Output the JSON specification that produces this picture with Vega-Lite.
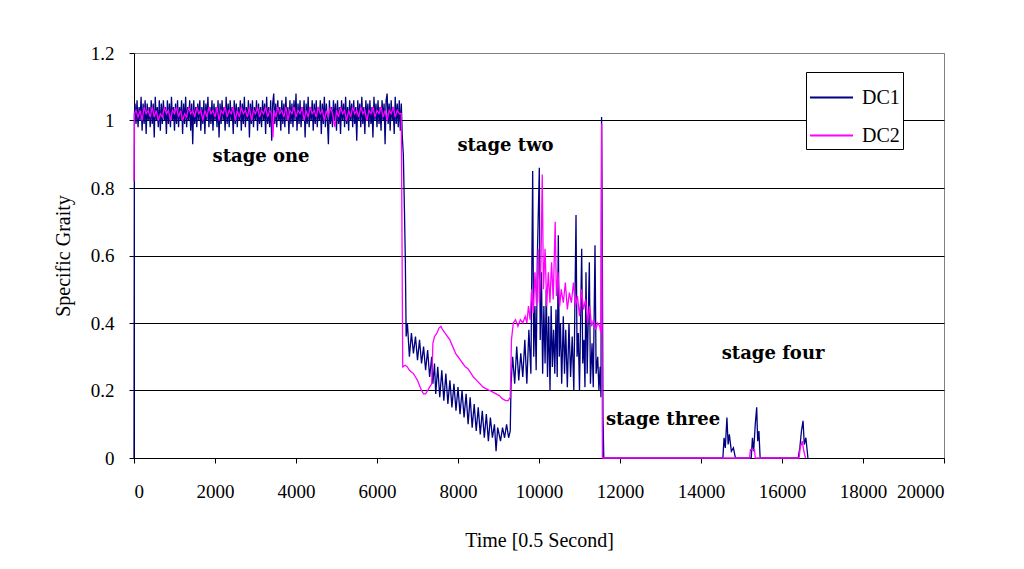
{
  "$schema": "https://vega.github.io/schema/vega-lite/v6.json",
  "autosize": "none",
  "width": 810,
  "height": 405,
  "padding": {"left": 134, "top": 53, "right": 80, "bottom": 111},
  "background": "white",
  "config": {
    "view": {"stroke": "#808080", "strokeWidth": 1},
    "font": "Liberation Serif"
  },
  "layer": [
    {
      "data": {"values": [
        {"series":"DC1","t":0,"v":0},{"series":"DC1","t":10,"v":1.02},{"series":"DC1","t":25,"v":1.05},{"series":"DC1","t":50,"v":0.99},{"series":"DC1","t":75,"v":1.06},{"series":"DC1","t":100,"v":0.98},{"series":"DC1","t":125,"v":1.04},{"series":"DC1","t":150,"v":1.0},{"series":"DC1","t":175,"v":1.07},{"series":"DC1","t":200,"v":0.97},{"series":"DC1","t":225,"v":1.05},{"series":"DC1","t":250,"v":0.99},{"series":"DC1","t":275,"v":1.06},{"series":"DC1","t":300,"v":0.96},{"series":"DC1","t":325,"v":1.05},{"series":"DC1","t":350,"v":1.0},{"series":"DC1","t":375,"v":1.04},{"series":"DC1","t":400,"v":0.98},{"series":"DC1","t":425,"v":1.06},{"series":"DC1","t":450,"v":0.99},{"series":"DC1","t":475,"v":1.05},{"series":"DC1","t":500,"v":0.95},{"series":"DC1","t":525,"v":1.07},{"series":"DC1","t":550,"v":1.0},{"series":"DC1","t":575,"v":1.04},{"series":"DC1","t":600,"v":0.98},{"series":"DC1","t":625,"v":1.06},{"series":"DC1","t":650,"v":0.97},{"series":"DC1","t":675,"v":1.05},{"series":"DC1","t":700,"v":0.99},{"series":"DC1","t":725,"v":1.06},{"series":"DC1","t":750,"v":1.0},{"series":"DC1","t":775,"v":1.04},{"series":"DC1","t":800,"v":0.96},{"series":"DC1","t":825,"v":1.06},{"series":"DC1","t":850,"v":0.99},{"series":"DC1","t":875,"v":1.05},{"series":"DC1","t":900,"v":0.98},{"series":"DC1","t":925,"v":1.07},{"series":"DC1","t":950,"v":1.0},{"series":"DC1","t":975,"v":1.04},{"series":"DC1","t":1000,"v":0.97},{"series":"DC1","t":1025,"v":1.05},{"series":"DC1","t":1050,"v":0.99},{"series":"DC1","t":1075,"v":1.06},{"series":"DC1","t":1100,"v":0.98},{"series":"DC1","t":1125,"v":1.04},{"series":"DC1","t":1150,"v":1.0},{"series":"DC1","t":1175,"v":1.06},{"series":"DC1","t":1200,"v":0.96},{"series":"DC1","t":1225,"v":1.05},{"series":"DC1","t":1250,"v":0.99},{"series":"DC1","t":1275,"v":1.07},{"series":"DC1","t":1300,"v":0.98},{"series":"DC1","t":1325,"v":1.04},{"series":"DC1","t":1350,"v":1.0},{"series":"DC1","t":1375,"v":1.06},{"series":"DC1","t":1400,"v":0.97},{"series":"DC1","t":1425,"v":1.05},{"series":"DC1","t":1450,"v":0.93},{"series":"DC1","t":1475,"v":1.06},{"series":"DC1","t":1500,"v":0.99},{"series":"DC1","t":1525,"v":1.04},{"series":"DC1","t":1550,"v":0.98},{"series":"DC1","t":1575,"v":1.05},{"series":"DC1","t":1600,"v":1.0},{"series":"DC1","t":1625,"v":1.06},{"series":"DC1","t":1650,"v":0.97},{"series":"DC1","t":1675,"v":1.04},{"series":"DC1","t":1700,"v":0.99},{"series":"DC1","t":1725,"v":1.06},{"series":"DC1","t":1750,"v":0.96},{"series":"DC1","t":1775,"v":1.05},{"series":"DC1","t":1800,"v":1.0},{"series":"DC1","t":1825,"v":1.07},{"series":"DC1","t":1850,"v":0.98},{"series":"DC1","t":1875,"v":1.04},{"series":"DC1","t":1900,"v":0.99},{"series":"DC1","t":1925,"v":1.06},{"series":"DC1","t":1950,"v":0.97},{"series":"DC1","t":1975,"v":1.05},{"series":"DC1","t":2000,"v":1.0},{"series":"DC1","t":2025,"v":1.04},{"series":"DC1","t":2050,"v":0.98},{"series":"DC1","t":2075,"v":1.06},{"series":"DC1","t":2100,"v":0.95},{"series":"DC1","t":2125,"v":1.05},{"series":"DC1","t":2150,"v":0.99},{"series":"DC1","t":2175,"v":1.06},{"series":"DC1","t":2200,"v":1.0},{"series":"DC1","t":2225,"v":1.04},{"series":"DC1","t":2250,"v":0.97},{"series":"DC1","t":2275,"v":1.07},{"series":"DC1","t":2300,"v":0.99},{"series":"DC1","t":2325,"v":1.05},{"series":"DC1","t":2350,"v":0.98},{"series":"DC1","t":2375,"v":1.06},{"series":"DC1","t":2400,"v":1.0},{"series":"DC1","t":2425,"v":1.04},{"series":"DC1","t":2450,"v":0.96},{"series":"DC1","t":2475,"v":1.06},{"series":"DC1","t":2500,"v":0.99},{"series":"DC1","t":2525,"v":1.05},{"series":"DC1","t":2550,"v":0.98},{"series":"DC1","t":2575,"v":1.04},{"series":"DC1","t":2600,"v":1.0},{"series":"DC1","t":2625,"v":1.06},{"series":"DC1","t":2650,"v":0.97},{"series":"DC1","t":2675,"v":1.05},{"series":"DC1","t":2700,"v":0.99},{"series":"DC1","t":2725,"v":1.07},{"series":"DC1","t":2750,"v":0.98},{"series":"DC1","t":2775,"v":1.04},{"series":"DC1","t":2800,"v":1.0},{"series":"DC1","t":2825,"v":1.06},{"series":"DC1","t":2850,"v":0.95},{"series":"DC1","t":2875,"v":1.05},{"series":"DC1","t":2900,"v":0.99},{"series":"DC1","t":2925,"v":1.06},{"series":"DC1","t":2950,"v":0.98},{"series":"DC1","t":2975,"v":1.04},{"series":"DC1","t":3000,"v":1.0},{"series":"DC1","t":3025,"v":1.06},{"series":"DC1","t":3050,"v":0.97},{"series":"DC1","t":3075,"v":1.05},{"series":"DC1","t":3100,"v":0.99},{"series":"DC1","t":3125,"v":1.04},{"series":"DC1","t":3150,"v":0.98},{"series":"DC1","t":3175,"v":1.06},{"series":"DC1","t":3200,"v":1.0},{"series":"DC1","t":3225,"v":1.05},{"series":"DC1","t":3250,"v":0.96},{"series":"DC1","t":3275,"v":1.07},{"series":"DC1","t":3300,"v":0.99},{"series":"DC1","t":3325,"v":1.04},{"series":"DC1","t":3350,"v":0.98},{"series":"DC1","t":3375,"v":1.06},{"series":"DC1","t":3400,"v":0.94},{"series":"DC1","t":3425,"v":1.05},{"series":"DC1","t":3450,"v":1.08},{"series":"DC1","t":3475,"v":0.99},{"series":"DC1","t":3500,"v":1.05},{"series":"DC1","t":3525,"v":0.98},{"series":"DC1","t":3550,"v":1.06},{"series":"DC1","t":3575,"v":1.0},{"series":"DC1","t":3600,"v":1.04},{"series":"DC1","t":3625,"v":0.97},{"series":"DC1","t":3650,"v":1.06},{"series":"DC1","t":3675,"v":0.99},{"series":"DC1","t":3700,"v":1.05},{"series":"DC1","t":3725,"v":0.98},{"series":"DC1","t":3750,"v":1.07},{"series":"DC1","t":3775,"v":1.0},{"series":"DC1","t":3800,"v":1.04},{"series":"DC1","t":3825,"v":0.96},{"series":"DC1","t":3850,"v":1.06},{"series":"DC1","t":3875,"v":0.99},{"series":"DC1","t":3900,"v":1.05},{"series":"DC1","t":3925,"v":0.98},{"series":"DC1","t":3950,"v":1.06},{"series":"DC1","t":3975,"v":1.0},{"series":"DC1","t":4000,"v":1.08},{"series":"DC1","t":4025,"v":0.97},{"series":"DC1","t":4050,"v":1.05},{"series":"DC1","t":4075,"v":0.99},{"series":"DC1","t":4100,"v":1.06},{"series":"DC1","t":4125,"v":0.98},{"series":"DC1","t":4150,"v":1.04},{"series":"DC1","t":4175,"v":1.0},{"series":"DC1","t":4200,"v":1.06},{"series":"DC1","t":4225,"v":0.95},{"series":"DC1","t":4250,"v":1.05},{"series":"DC1","t":4275,"v":0.99},{"series":"DC1","t":4300,"v":1.07},{"series":"DC1","t":4325,"v":0.98},{"series":"DC1","t":4350,"v":1.04},{"series":"DC1","t":4375,"v":1.0},{"series":"DC1","t":4400,"v":1.06},{"series":"DC1","t":4425,"v":0.97},{"series":"DC1","t":4450,"v":1.05},{"series":"DC1","t":4475,"v":0.99},{"series":"DC1","t":4500,"v":1.06},{"series":"DC1","t":4525,"v":0.98},{"series":"DC1","t":4550,"v":1.04},{"series":"DC1","t":4575,"v":1.0},{"series":"DC1","t":4600,"v":1.06},{"series":"DC1","t":4625,"v":0.96},{"series":"DC1","t":4650,"v":1.05},{"series":"DC1","t":4675,"v":0.99},{"series":"DC1","t":4700,"v":1.07},{"series":"DC1","t":4725,"v":0.98},{"series":"DC1","t":4750,"v":1.05},{"series":"DC1","t":4775,"v":1.0},{"series":"DC1","t":4800,"v":0.93},{"series":"DC1","t":4825,"v":1.06},{"series":"DC1","t":4850,"v":0.99},{"series":"DC1","t":4875,"v":1.04},{"series":"DC1","t":4900,"v":0.98},{"series":"DC1","t":4925,"v":1.06},{"series":"DC1","t":4950,"v":1.0},{"series":"DC1","t":4975,"v":1.05},{"series":"DC1","t":5000,"v":0.97},{"series":"DC1","t":5025,"v":1.06},{"series":"DC1","t":5050,"v":0.99},{"series":"DC1","t":5075,"v":1.04},{"series":"DC1","t":5100,"v":0.96},{"series":"DC1","t":5125,"v":1.06},{"series":"DC1","t":5150,"v":1.0},{"series":"DC1","t":5175,"v":1.05},{"series":"DC1","t":5200,"v":0.98},{"series":"DC1","t":5225,"v":1.07},{"series":"DC1","t":5250,"v":0.99},{"series":"DC1","t":5275,"v":1.04},{"series":"DC1","t":5300,"v":0.97},{"series":"DC1","t":5325,"v":1.06},{"series":"DC1","t":5350,"v":1.0},{"series":"DC1","t":5375,"v":1.05},{"series":"DC1","t":5400,"v":0.98},{"series":"DC1","t":5425,"v":1.06},{"series":"DC1","t":5450,"v":0.99},{"series":"DC1","t":5475,"v":1.04},{"series":"DC1","t":5500,"v":0.94},{"series":"DC1","t":5525,"v":1.06},{"series":"DC1","t":5550,"v":1.0},{"series":"DC1","t":5575,"v":1.05},{"series":"DC1","t":5600,"v":0.98},{"series":"DC1","t":5625,"v":1.07},{"series":"DC1","t":5650,"v":0.99},{"series":"DC1","t":5675,"v":1.04},{"series":"DC1","t":5700,"v":0.96},{"series":"DC1","t":5725,"v":1.06},{"series":"DC1","t":5750,"v":1.0},{"series":"DC1","t":5775,"v":1.05},{"series":"DC1","t":5800,"v":0.98},{"series":"DC1","t":5825,"v":1.06},{"series":"DC1","t":5850,"v":0.99},{"series":"DC1","t":5875,"v":1.04},{"series":"DC1","t":5900,"v":0.95},{"series":"DC1","t":5925,"v":1.07},{"series":"DC1","t":5950,"v":1.0},{"series":"DC1","t":5975,"v":1.05},{"series":"DC1","t":6000,"v":0.98},{"series":"DC1","t":6025,"v":1.06},{"series":"DC1","t":6050,"v":0.99},{"series":"DC1","t":6075,"v":1.04},{"series":"DC1","t":6100,"v":0.97},{"series":"DC1","t":6125,"v":1.06},{"series":"DC1","t":6150,"v":1.0},{"series":"DC1","t":6175,"v":1.05},{"series":"DC1","t":6200,"v":0.93},{"series":"DC1","t":6225,"v":1.06},{"series":"DC1","t":6250,"v":1.08},{"series":"DC1","t":6275,"v":0.99},{"series":"DC1","t":6300,"v":1.05},{"series":"DC1","t":6325,"v":0.97},{"series":"DC1","t":6350,"v":1.06},{"series":"DC1","t":6375,"v":1.0},{"series":"DC1","t":6400,"v":1.04},{"series":"DC1","t":6425,"v":0.96},{"series":"DC1","t":6450,"v":1.07},{"series":"DC1","t":6475,"v":0.99},{"series":"DC1","t":6500,"v":1.05},{"series":"DC1","t":6525,"v":0.98},{"series":"DC1","t":6550,"v":1.06},{"series":"DC1","t":6575,"v":0.97},{"series":"DC1","t":6600,"v":1.05},{"series":"DC1","t":6625,"v":0.95},
        {"series":"DC1","t":6650,"v":0.9},{"series":"DC1","t":6680,"v":0.72},{"series":"DC1","t":6700,"v":0.58},{"series":"DC1","t":6720,"v":0.36},{"series":"DC1","t":6750,"v":0.4},{"series":"DC1","t":6800,"v":0.3},{"series":"DC1","t":6850,"v":0.37},{"series":"DC1","t":6900,"v":0.31},{"series":"DC1","t":6950,"v":0.36},{"series":"DC1","t":7000,"v":0.29},{"series":"DC1","t":7050,"v":0.35},{"series":"DC1","t":7100,"v":0.28},{"series":"DC1","t":7150,"v":0.33},{"series":"DC1","t":7200,"v":0.26},{"series":"DC1","t":7250,"v":0.32},{"series":"DC1","t":7300,"v":0.24},{"series":"DC1","t":7350,"v":0.3},{"series":"DC1","t":7380,"v":0.22},{"series":"DC1","t":7420,"v":0.28},{"series":"DC1","t":7450,"v":0.19},{"series":"DC1","t":7500,"v":0.27},{"series":"DC1","t":7550,"v":0.18},{"series":"DC1","t":7600,"v":0.26},{"series":"DC1","t":7650,"v":0.17},{"series":"DC1","t":7700,"v":0.25},{"series":"DC1","t":7750,"v":0.16},{"series":"DC1","t":7800,"v":0.23},{"series":"DC1","t":7850,"v":0.15},{"series":"DC1","t":7900,"v":0.22},{"series":"DC1","t":7950,"v":0.14},{"series":"DC1","t":8000,"v":0.21},{"series":"DC1","t":8050,"v":0.13},{"series":"DC1","t":8100,"v":0.2},{"series":"DC1","t":8150,"v":0.12},{"series":"DC1","t":8200,"v":0.19},{"series":"DC1","t":8250,"v":0.1},{"series":"DC1","t":8300,"v":0.18},{"series":"DC1","t":8350,"v":0.09},{"series":"DC1","t":8400,"v":0.16},{"series":"DC1","t":8450,"v":0.08},{"series":"DC1","t":8500,"v":0.15},{"series":"DC1","t":8550,"v":0.07},{"series":"DC1","t":8600,"v":0.14},{"series":"DC1","t":8650,"v":0.06},{"series":"DC1","t":8700,"v":0.13},{"series":"DC1","t":8750,"v":0.05},{"series":"DC1","t":8800,"v":0.12},{"series":"DC1","t":8850,"v":0.06},{"series":"DC1","t":8900,"v":0.1},{"series":"DC1","t":8940,"v":0.02},{"series":"DC1","t":8980,"v":0.09},{"series":"DC1","t":9050,"v":0.05},{"series":"DC1","t":9100,"v":0.09},{"series":"DC1","t":9150,"v":0.06},{"series":"DC1","t":9200,"v":0.1},{"series":"DC1","t":9250,"v":0.06},{"series":"DC1","t":9290,"v":0.08},{"series":"DC1","t":9310,"v":0.22},{"series":"DC1","t":9350,"v":0.3},{"series":"DC1","t":9400,"v":0.22},{"series":"DC1","t":9450,"v":0.33},{"series":"DC1","t":9500,"v":0.23},{"series":"DC1","t":9550,"v":0.31},{"series":"DC1","t":9600,"v":0.24},{"series":"DC1","t":9650,"v":0.35},{"series":"DC1","t":9700,"v":0.22},{"series":"DC1","t":9750,"v":0.38},{"series":"DC1","t":9800,"v":0.25},{"series":"DC1","t":9844,"v":0.85},{"series":"DC1","t":9870,"v":0.3},{"series":"DC1","t":9900,"v":0.45},{"series":"DC1","t":9930,"v":0.26},{"series":"DC1","t":9960,"v":0.6},{"series":"DC1","t":10008,"v":0.86},{"series":"DC1","t":10030,"v":0.35},{"series":"DC1","t":10060,"v":0.55},{"series":"DC1","t":10090,"v":0.25},{"series":"DC1","t":10120,"v":0.45},{"series":"DC1","t":10150,"v":0.28},{"series":"DC1","t":10180,"v":0.5},{"series":"DC1","t":10210,"v":0.24},{"series":"DC1","t":10240,"v":0.42},{"series":"DC1","t":10272,"v":0.2},{"series":"DC1","t":10300,"v":0.45},{"series":"DC1","t":10330,"v":0.27},{"series":"DC1","t":10360,"v":0.38},{"series":"DC1","t":10390,"v":0.25},{"series":"DC1","t":10420,"v":0.44},{"series":"DC1","t":10450,"v":0.24},{"series":"DC1","t":10477,"v":0.66},{"series":"DC1","t":10500,"v":0.3},{"series":"DC1","t":10530,"v":0.4},{"series":"DC1","t":10560,"v":0.22},{"series":"DC1","t":10600,"v":0.42},{"series":"DC1","t":10630,"v":0.25},{"series":"DC1","t":10660,"v":0.38},{"series":"DC1","t":10700,"v":0.21},{"series":"DC1","t":10740,"v":0.4},{"series":"DC1","t":10780,"v":0.24},{"series":"DC1","t":10820,"v":0.36},{"series":"DC1","t":10860,"v":0.2},{"series":"DC1","t":10914,"v":0.72},{"series":"DC1","t":10940,"v":0.3},{"series":"DC1","t":10970,"v":0.37},{"series":"DC1","t":11000,"v":0.2},{"series":"DC1","t":11054,"v":0.62},{"series":"DC1","t":11080,"v":0.28},{"series":"DC1","t":11110,"v":0.35},{"series":"DC1","t":11135,"v":0.21},{"series":"DC1","t":11160,"v":0.55},{"series":"DC1","t":11190,"v":0.25},{"series":"DC1","t":11243,"v":0.58},{"series":"DC1","t":11270,"v":0.22},{"series":"DC1","t":11310,"v":0.34},{"series":"DC1","t":11340,"v":0.21},{"series":"DC1","t":11383,"v":0.63},{"series":"DC1","t":11410,"v":0.25},{"series":"DC1","t":11450,"v":0.3},{"series":"DC1","t":11480,"v":0.2},{"series":"DC1","t":11510,"v":0.27},{"series":"DC1","t":11530,"v":0.18},{"series":"DC1","t":11545,"v":1.01},{"series":"DC1","t":11560,"v":0.72},{"series":"DC1","t":11580,"v":0.12},{"series":"DC1","t":11600,"v":0},
        {"series":"DC1","t":14540,"v":0},{"series":"DC1","t":14570,"v":0.06},{"series":"DC1","t":14600,"v":0.03},{"series":"DC1","t":14640,"v":0.12},{"series":"DC1","t":14670,"v":0.04},{"series":"DC1","t":14700,"v":0.07},{"series":"DC1","t":14750,"v":0.02},{"series":"DC1","t":14800,"v":0.03},{"series":"DC1","t":14850,"v":0},{"series":"DC1","t":15240,"v":0},{"series":"DC1","t":15270,"v":0.06},{"series":"DC1","t":15300,"v":0.02},{"series":"DC1","t":15340,"v":0.1},{"series":"DC1","t":15375,"v":0.15},{"series":"DC1","t":15400,"v":0.05},{"series":"DC1","t":15430,"v":0.08},{"series":"DC1","t":15460,"v":0},{"series":"DC1","t":16400,"v":0},{"series":"DC1","t":16440,"v":0.03},{"series":"DC1","t":16480,"v":0.08},{"series":"DC1","t":16520,"v":0.11},{"series":"DC1","t":16550,"v":0.04},{"series":"DC1","t":16590,"v":0.06},{"series":"DC1","t":16640,"v":0},
        {"series":"DC2","t":0,"v":0.82},{"series":"DC2","t":10,"v":1.02},{"series":"DC2","t":50,"v":1.03},{"series":"DC2","t":100,"v":1.01},{"series":"DC2","t":150,"v":1.03},{"series":"DC2","t":200,"v":1.0},{"series":"DC2","t":250,"v":1.04},{"series":"DC2","t":300,"v":1.02},{"series":"DC2","t":350,"v":1.03},{"series":"DC2","t":400,"v":1.01},{"series":"DC2","t":450,"v":1.04},{"series":"DC2","t":500,"v":1.01},{"series":"DC2","t":550,"v":1.03},{"series":"DC2","t":600,"v":1.0},{"series":"DC2","t":650,"v":1.02},{"series":"DC2","t":700,"v":1.01},{"series":"DC2","t":750,"v":1.04},{"series":"DC2","t":800,"v":1.02},{"series":"DC2","t":850,"v":1.03},{"series":"DC2","t":900,"v":1.0},{"series":"DC2","t":950,"v":1.03},{"series":"DC2","t":1000,"v":1.02},{"series":"DC2","t":1050,"v":1.04},{"series":"DC2","t":1100,"v":1.01},{"series":"DC2","t":1150,"v":1.03},{"series":"DC2","t":1200,"v":1.0},{"series":"DC2","t":1250,"v":1.02},{"series":"DC2","t":1300,"v":1.01},{"series":"DC2","t":1350,"v":1.04},{"series":"DC2","t":1400,"v":1.02},{"series":"DC2","t":1450,"v":1.03},{"series":"DC2","t":1500,"v":1.01},{"series":"DC2","t":1550,"v":1.04},{"series":"DC2","t":1600,"v":1.02},{"series":"DC2","t":1650,"v":1.03},{"series":"DC2","t":1700,"v":1.0},{"series":"DC2","t":1750,"v":1.03},{"series":"DC2","t":1800,"v":1.01},{"series":"DC2","t":1850,"v":1.04},{"series":"DC2","t":1900,"v":1.02},{"series":"DC2","t":1950,"v":1.03},{"series":"DC2","t":2000,"v":1.01},{"series":"DC2","t":2050,"v":1.04},{"series":"DC2","t":2100,"v":1.0},{"series":"DC2","t":2150,"v":1.03},{"series":"DC2","t":2200,"v":1.02},{"series":"DC2","t":2250,"v":1.04},{"series":"DC2","t":2300,"v":1.01},{"series":"DC2","t":2350,"v":1.03},{"series":"DC2","t":2400,"v":1.02},{"series":"DC2","t":2450,"v":1.04},{"series":"DC2","t":2500,"v":1.0},{"series":"DC2","t":2550,"v":1.03},{"series":"DC2","t":2600,"v":1.01},{"series":"DC2","t":2650,"v":1.04},{"series":"DC2","t":2700,"v":1.02},{"series":"DC2","t":2750,"v":1.03},{"series":"DC2","t":2800,"v":1.01},{"series":"DC2","t":2850,"v":1.04},{"series":"DC2","t":2900,"v":1.0},{"series":"DC2","t":2950,"v":1.03},{"series":"DC2","t":3000,"v":1.02},{"series":"DC2","t":3050,"v":1.04},{"series":"DC2","t":3100,"v":1.01},{"series":"DC2","t":3150,"v":1.03},{"series":"DC2","t":3200,"v":1.02},{"series":"DC2","t":3250,"v":1.04},{"series":"DC2","t":3300,"v":1.01},{"series":"DC2","t":3350,"v":1.03},{"series":"DC2","t":3400,"v":1.02},{"series":"DC2","t":3430,"v":0.95},{"series":"DC2","t":3460,"v":1.03},{"series":"DC2","t":3500,"v":1.01},{"series":"DC2","t":3550,"v":1.04},{"series":"DC2","t":3600,"v":1.02},{"series":"DC2","t":3650,"v":1.03},{"series":"DC2","t":3700,"v":1.01},{"series":"DC2","t":3750,"v":1.04},{"series":"DC2","t":3800,"v":1.0},{"series":"DC2","t":3850,"v":1.03},{"series":"DC2","t":3900,"v":1.02},{"series":"DC2","t":3950,"v":1.04},{"series":"DC2","t":4000,"v":1.01},{"series":"DC2","t":4050,"v":1.03},{"series":"DC2","t":4100,"v":1.02},{"series":"DC2","t":4150,"v":1.04},{"series":"DC2","t":4200,"v":1.0},{"series":"DC2","t":4250,"v":1.03},{"series":"DC2","t":4300,"v":1.01},{"series":"DC2","t":4350,"v":1.04},{"series":"DC2","t":4400,"v":1.02},{"series":"DC2","t":4450,"v":1.03},{"series":"DC2","t":4500,"v":1.01},{"series":"DC2","t":4550,"v":1.04},{"series":"DC2","t":4600,"v":1.02},{"series":"DC2","t":4650,"v":1.03},{"series":"DC2","t":4700,"v":1.0},{"series":"DC2","t":4750,"v":1.03},{"series":"DC2","t":4800,"v":1.01},{"series":"DC2","t":4850,"v":1.04},{"series":"DC2","t":4900,"v":1.02},{"series":"DC2","t":4960,"v":0.98},{"series":"DC2","t":5000,"v":1.03},{"series":"DC2","t":5050,"v":1.01},{"series":"DC2","t":5100,"v":1.04},{"series":"DC2","t":5150,"v":1.02},{"series":"DC2","t":5200,"v":1.03},{"series":"DC2","t":5250,"v":1.0},{"series":"DC2","t":5300,"v":1.03},{"series":"DC2","t":5350,"v":1.01},{"series":"DC2","t":5400,"v":1.04},{"series":"DC2","t":5450,"v":1.02},{"series":"DC2","t":5500,"v":1.03},{"series":"DC2","t":5550,"v":1.01},{"series":"DC2","t":5600,"v":1.04},{"series":"DC2","t":5650,"v":1.02},{"series":"DC2","t":5700,"v":1.03},{"series":"DC2","t":5750,"v":1.0},{"series":"DC2","t":5800,"v":1.03},{"series":"DC2","t":5850,"v":1.02},{"series":"DC2","t":5900,"v":1.04},{"series":"DC2","t":5950,"v":1.01},{"series":"DC2","t":6000,"v":1.03},{"series":"DC2","t":6050,"v":1.02},{"series":"DC2","t":6100,"v":1.04},{"series":"DC2","t":6150,"v":1.01},{"series":"DC2","t":6200,"v":1.03},{"series":"DC2","t":6250,"v":1.0},{"series":"DC2","t":6300,"v":1.03},{"series":"DC2","t":6350,"v":1.02},{"series":"DC2","t":6400,"v":1.04},{"series":"DC2","t":6450,"v":1.01},{"series":"DC2","t":6500,"v":1.03},{"series":"DC2","t":6550,"v":1.02},{"series":"DC2","t":6600,"v":1.02},
        {"series":"DC2","t":6635,"v":0.27},{"series":"DC2","t":6700,"v":0.275},{"series":"DC2","t":6750,"v":0.27},{"series":"DC2","t":6800,"v":0.26},{"series":"DC2","t":6850,"v":0.255},{"series":"DC2","t":6900,"v":0.25},{"series":"DC2","t":6950,"v":0.24},{"series":"DC2","t":7000,"v":0.23},{"series":"DC2","t":7050,"v":0.215},{"series":"DC2","t":7100,"v":0.2},{"series":"DC2","t":7150,"v":0.19},{"series":"DC2","t":7200,"v":0.19},{"series":"DC2","t":7250,"v":0.2},{"series":"DC2","t":7300,"v":0.21},{"series":"DC2","t":7350,"v":0.22},{"series":"DC2","t":7380,"v":0.34},{"series":"DC2","t":7420,"v":0.36},{"series":"DC2","t":7480,"v":0.37},{"series":"DC2","t":7530,"v":0.385},{"series":"DC2","t":7580,"v":0.39},{"series":"DC2","t":7620,"v":0.38},{"series":"DC2","t":7680,"v":0.37},{"series":"DC2","t":7740,"v":0.36},{"series":"DC2","t":7800,"v":0.35},{"series":"DC2","t":7870,"v":0.33},{"series":"DC2","t":7940,"v":0.31},{"series":"DC2","t":8000,"v":0.3},{"series":"DC2","t":8060,"v":0.29},{"series":"DC2","t":8120,"v":0.28},{"series":"DC2","t":8180,"v":0.27},{"series":"DC2","t":8240,"v":0.265},{"series":"DC2","t":8300,"v":0.255},{"series":"DC2","t":8380,"v":0.24},{"series":"DC2","t":8460,"v":0.23},{"series":"DC2","t":8540,"v":0.22},{"series":"DC2","t":8620,"v":0.21},{"series":"DC2","t":8700,"v":0.205},{"series":"DC2","t":8780,"v":0.2},{"series":"DC2","t":8860,"v":0.195},{"series":"DC2","t":8940,"v":0.19},{"series":"DC2","t":9020,"v":0.185},{"series":"DC2","t":9100,"v":0.175},{"series":"DC2","t":9180,"v":0.17},{"series":"DC2","t":9240,"v":0.17},{"series":"DC2","t":9290,"v":0.18},{"series":"DC2","t":9320,"v":0.35},{"series":"DC2","t":9366,"v":0.4},{"series":"DC2","t":9420,"v":0.41},{"series":"DC2","t":9480,"v":0.39},{"series":"DC2","t":9540,"v":0.41},{"series":"DC2","t":9600,"v":0.4},{"series":"DC2","t":9660,"v":0.42},{"series":"DC2","t":9700,"v":0.4},{"series":"DC2","t":9740,"v":0.45},{"series":"DC2","t":9780,"v":0.41},{"series":"DC2","t":9820,"v":0.5},{"series":"DC2","t":9860,"v":0.43},{"series":"DC2","t":9900,"v":0.55},{"series":"DC2","t":9940,"v":0.45},{"series":"DC2","t":9980,"v":0.62},{"series":"DC2","t":10010,"v":0.46},{"series":"DC2","t":10050,"v":0.58},{"series":"DC2","t":10080,"v":0.84},{"series":"DC2","t":10110,"v":0.5},{"series":"DC2","t":10150,"v":0.62},{"series":"DC2","t":10190,"v":0.45},{"series":"DC2","t":10230,"v":0.55},{"series":"DC2","t":10270,"v":0.46},{"series":"DC2","t":10310,"v":0.58},{"series":"DC2","t":10350,"v":0.47},{"series":"DC2","t":10400,"v":0.7},{"series":"DC2","t":10430,"v":0.48},{"series":"DC2","t":10470,"v":0.55},{"series":"DC2","t":10510,"v":0.45},{"series":"DC2","t":10550,"v":0.5},{"series":"DC2","t":10600,"v":0.46},{"series":"DC2","t":10650,"v":0.52},{"series":"DC2","t":10700,"v":0.44},{"series":"DC2","t":10750,"v":0.49},{"series":"DC2","t":10800,"v":0.46},{"series":"DC2","t":10850,"v":0.52},{"series":"DC2","t":10900,"v":0.45},{"series":"DC2","t":10950,"v":0.48},{"series":"DC2","t":11000,"v":0.42},{"series":"DC2","t":11050,"v":0.5},{"series":"DC2","t":11100,"v":0.44},{"series":"DC2","t":11150,"v":0.47},{"series":"DC2","t":11200,"v":0.4},{"series":"DC2","t":11250,"v":0.45},{"series":"DC2","t":11300,"v":0.39},{"series":"DC2","t":11350,"v":0.41},{"series":"DC2","t":11400,"v":0.38},{"series":"DC2","t":11450,"v":0.4},{"series":"DC2","t":11500,"v":0.39},{"series":"DC2","t":11530,"v":0.37},{"series":"DC2","t":11548,"v":0.99},{"series":"DC2","t":11565,"v":0},
        {"series":"DC2","t":15200,"v":0},{"series":"DC2","t":15220,"v":0.025},{"series":"DC2","t":15320,"v":0.025},{"series":"DC2","t":15340,"v":0},{"series":"DC2","t":16420,"v":0},{"series":"DC2","t":16450,"v":0.03},{"series":"DC2","t":16500,"v":0.05},{"series":"DC2","t":16540,"v":0.02},{"series":"DC2","t":16580,"v":0}
      ]},
      "mark": {"type": "line", "strokeWidth": 1.3, "interpolate": "linear"},
      "encoding": {
        "x": {
          "field": "t", "type": "quantitative",
          "scale": {"domain": [0, 20000], "nice": false},
          "axis": {
            "values": [0,2000,4000,6000,8000,10000,12000,14000,16000,18000,20000],
            "format": "d",
            "grid": false,
            "domainColor": "black", "tickColor": "black",
            "tickSize": 5, "labelPadding": 19,
            "labelFont": "Liberation Serif", "labelFontSize": 19, "labelColor": "black",
            "title": "Time [0.5 Second]",
            "titleFont": "Liberation Serif", "titleFontSize": 20, "titleFontWeight": "normal", "titleColor": "black",
            "titlePadding": 29
          }
        },
        "y": {
          "field": "v", "type": "quantitative",
          "scale": {"domain": [0, 1.2], "nice": false},
          "axis": {
            "values": [0,0.2,0.4,0.6,0.8,1,1.2],
            "labelExpr": "format(datum.value, '~g')",
            "grid": true,
            "gridColor": {"condition": {"test": "datum.value > 1.1", "value": "#808080"}, "value": "black"},
            "gridWidth": 1,
            "domainColor": "black", "tickColor": "black",
            "tickSize": 5, "labelPadding": 15,
            "labelFont": "Liberation Serif", "labelFontSize": 19, "labelColor": "black",
            "title": "Specific Graity",
            "titleFont": "Liberation Serif", "titleFontSize": 20, "titleFontWeight": "normal", "titleColor": "black",
            "titlePadding": 17
          }
        },
        "color": {
          "field": "series", "type": "nominal",
          "scale": {"domain": ["DC1", "DC2"], "range": ["#000080", "#FF00FF"]},
          "legend": {
            "orient": "none", "legendX": 672, "legendY": 19,
            "title": null,
            "symbolType": "stroke", "symbolSize": 1849, "symbolStrokeWidth": 2,
            "labelFont": "Liberation Serif", "labelFontSize": 20, "labelColor": "black",
            "labelOffset": 8,
            "labelExpr": "datum.label + '\u00a0\u00a0'",
            "strokeColor": "black", "fillColor": "white",
            "padding": 3, "rowPadding": 5
          }
        }
      }
    },
    {
      "data": {"values": [
        {"label": "stage one", "t": 3136, "v": 0.893},
        {"label": "stage two", "t": 9173, "v": 0.924},
        {"label": "stage three", "t": 13062, "v": 0.114},
        {"label": "stage four", "t": 15780, "v": 0.307}
      ]},
      "mark": {"type": "text", "font": "DejaVu Serif", "fontWeight": "bold", "fontSize": 18, "align": "center", "baseline": "middle", "color": "black"},
      "encoding": {
        "x": {"field": "t", "type": "quantitative"},
        "y": {"field": "v", "type": "quantitative"},
        "text": {"field": "label"}
      }
    },
    {
      "mark": {"type": "rule", "color": "black", "strokeWidth": 1.6},
      "encoding": {"y": {"datum": 0}}
    }
  ]
}
